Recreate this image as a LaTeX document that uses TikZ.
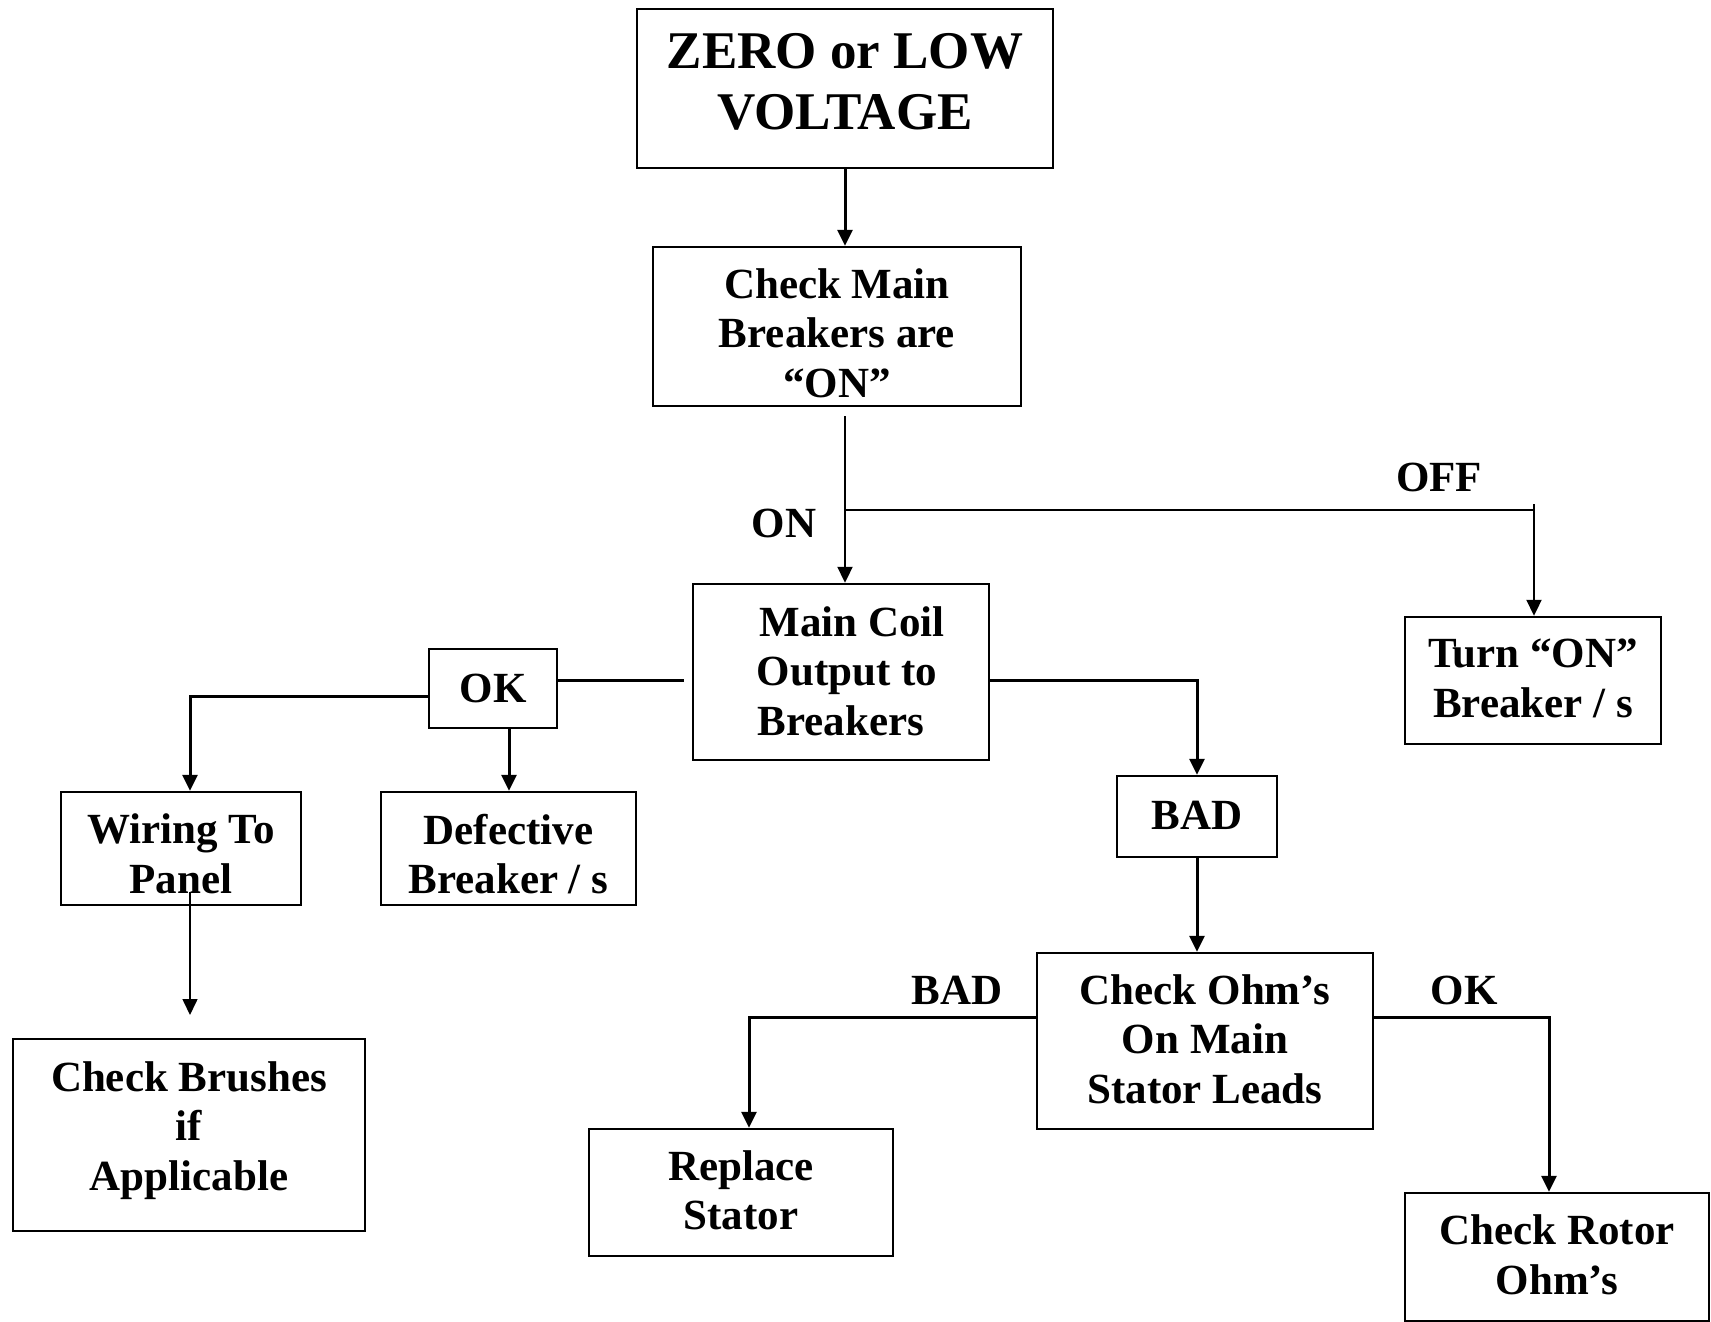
\documentclass[tikz,border=0pt]{standalone}
\usepackage{fontspec}
\setmainfont{Liberation Serif}
\usetikzlibrary{arrows.meta}
\begin{document}
\begin{tikzpicture}[x=1pt,y=-1pt,
  box/.style={draw,line width=2.4pt,inner sep=0pt},
  txt/.style={inner sep=0pt,align=center,font=\bfseries\fontsize{43}{49.5}\selectfont},
  bigtxt/.style={inner sep=0pt,align=center,font=\bfseries\fontsize{53}{61}\selectfont},
  lbl/.style={inner sep=0pt,font=\bfseries\fontsize{43}{49.5}\selectfont},
  conn/.style={line width=3pt},
  thin/.style={line width=2pt},
  tip/.style={-{Triangle[length=16pt,width=15pt]}},
  arr/.style={conn,tip}]
\useasboundingbox (0,0) rectangle (1711,1322);

% boxes
\node[box,minimum width=416,minimum height=159] (top) at (845,88.5) {};
\node[box,minimum width=368,minimum height=159] (check) at (837,326.5) {};
\node[box,minimum width=296,minimum height=176] (coil) at (841,672) {};
\node[box,minimum width=256,minimum height=127] (turn) at (1533,680.5) {};
\node[box,minimum width=128,minimum height=79] (okbox) at (493,688.5) {};
\node[box,minimum width=240,minimum height=113] (wiring) at (181,848.5) {};
\node[box,minimum width=255,minimum height=113] (defect) at (508.5,848.5) {};
\node[box,minimum width=160,minimum height=81] (badbox) at (1197,816.5) {};
\node[box,minimum width=336,minimum height=176] (ohm) at (1205,1041) {};
\node[box,minimum width=352,minimum height=192] (brush) at (189,1135) {};
\node[box,minimum width=304,minimum height=127] (replace) at (741,1192.5) {};
\node[box,minimum width=304,minimum height=128] (rotor) at (1557,1257) {};

% box texts
\node[bigtxt] (topT) at ([yshift=6.5pt]top.center) {ZERO or LOW\\VOLTAGE};
\node[txt] (checkT) at ([yshift=-6.5pt]check.center) {Check Main\\Breakers are\\“ON”};
\node[txt] (coilT) at ([yshift=1pt]coil.center) {\hspace*{22pt}Main Coil\\\hspace*{12pt}Output to\\Breakers};
\node[txt] (turnT) at ([yshift=2pt]turn.center) {Turn “ON”\\Breaker / s};
\node[txt] (okT) at (okbox.center) {OK};
\node[txt] (wiringT) at ([yshift=-5.5pt]wiring.center) {Wiring To\\Panel};
\node[txt] (defectT) at ([yshift=-5.5pt]defect.center) {Defective\\Breaker / s};
\node[txt] (badT) at ([yshift=1.5pt]badbox.center) {BAD};
\node[txt] (ohmT) at ([yshift=2pt]ohm.center) {Check Ohm’s\\On Main\\Stator Leads};
\node[txt] (brushT) at ([yshift=4.5pt]brush.center) {Check Brushes\\if\\Applicable};
\node[txt] (replaceT) at ([yshift=2pt]replace.center) {Replace\\Stator};
\node[txt] (rotorT) at ([yshift=2pt]rotor.center) {Check Rotor\\Ohm’s};

% labels
\node[lbl] (lon) at (784,523) {ON};
\node[lbl] (loff) at (1439,477) {OFF};
\node[lbl] (lbad) at (957,990) {BAD};
\node[lbl] (lok) at (1464,990) {OK};

% junction coordinates
\coordinate (vx) at (845,0);
\coordinate (j1) at (845,510);
\coordinate (j2) at (1534,510);
\coordinate (j2top) at (1534,504);
\coordinate (okR) at (684,680);
\coordinate (okL) at (190,696);
\coordinate (okD) at (509,728);
\coordinate (cR) at (1197,680);
\coordinate (wT) at (190,892);
\coordinate (wB) at (190,1015);
\coordinate (oL) at (749,1017);
\coordinate (oR) at (1549,1017);

% connectors
\draw[arr] (vx |- top.south) -- (vx |- check.north);
\draw[thin,tip] (j1 |- check.south) ++(0,9) -- (j1 |- coil.north);
\draw[thin] (j1) -- (j2);
\draw[thin,tip] (j2top) -- (j2top |- turn.north);
\draw[conn] (okbox.east |- okR) -- (okR);
\draw[arr] (okbox.west |- okL) -- (okL) -- (okL |- wiring.north);
\draw[arr] (okD) -- (okD |- defect.north);
\draw[arr] (coil.east |- cR) -- (cR) -- (badbox.north);
\draw[arr] (badbox.south) -- (badbox.south |- ohm.north);
\draw[line width=1.6pt,tip] (wT) -- (wB);
\draw[arr] (ohm.west |- oL) -- (oL) -- (oL |- replace.north);
\draw[arr] (ohm.east |- oR) -- (oR) -- (oR |- rotor.north);
\end{tikzpicture}
\end{document}
